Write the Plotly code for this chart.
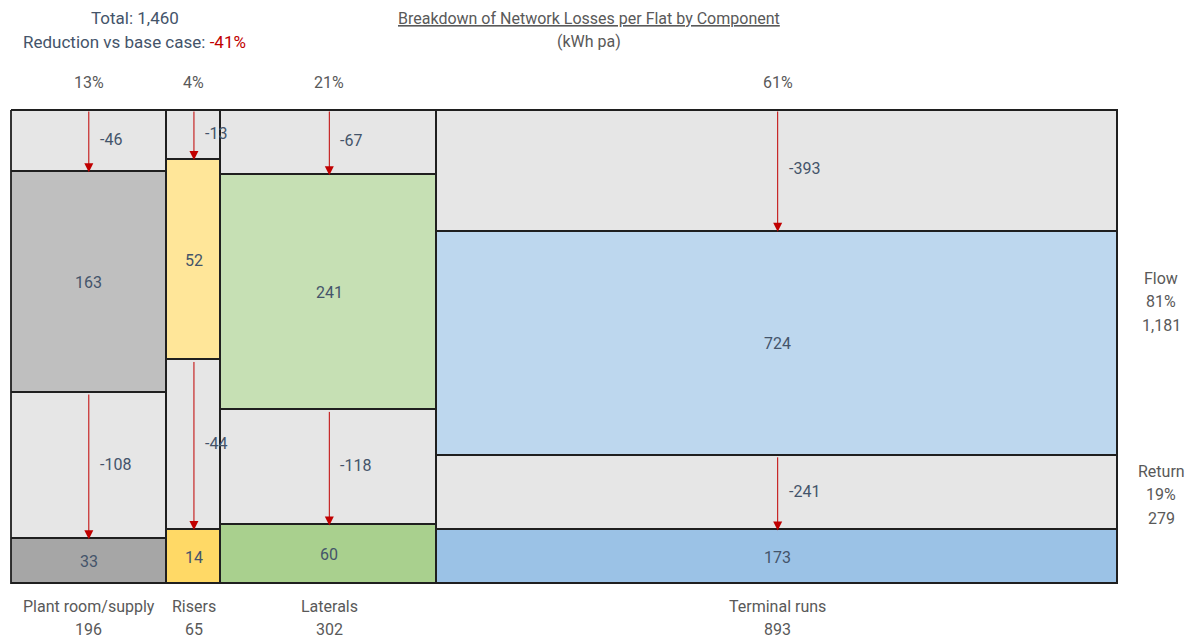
import plotly.graph_objects as go

categories = ["Plant room/supply", "Risers", "Laterals", "Terminal runs"]
flow_now = [163, 52, 241, 724]
flow_red = [46, 13, 67, 393]
ret_now = [33, 14, 60, 173]
ret_red = [108, 44, 118, 241]
cat_totals = ["196", "65", "302", "893"]
share_labels = ["13%", "4%", "21%", "61%"]
total_label = "1,460"
reduction_label = "-41%"
flow_summary = ["Flow", "81%", "1,181"]
return_summary = ["Return", "19%", "279"]

flow_colors = ["#BFBFBF", "#FFE699", "#C6E0B4", "#BDD7EE"]
ret_colors = ["#A6A6A6", "#FFD966", "#A9D08E", "#9BC2E6"]
red_color = "#E6E6E6"
num_col = "#44546A"
lab_col = "#595959"
edge_col = "#1F1F1F"
FONT = "Roboto"
LH = 23.5  # line height in px

base = [a + b + c + d for a, b, c, d in zip(flow_now, flow_red, ret_now, ret_red)]
total_base = sum(base)
lefts = []
acc = 0
for b in base:
    lefts.append(acc)
    acc += b
centers = [l + b / 2 for l, b in zip(lefts, base)]

def frac(vals):
    return [v / b for v, b in zip(vals, base)]

fig = go.Figure()
line = dict(color=edge_col, width=1.8)
for vals, cols in [(ret_now, ret_colors), (ret_red, [red_color] * 4),
                   (flow_now, flow_colors), (flow_red, [red_color] * 4)]:
    fig.add_trace(go.Bar(x=centers, y=frac(vals), width=base,
                         marker=dict(color=cols, line=line), cliponaxis=False,
                         hoverinfo="skip", showlegend=False))

ann = []

def lines(xref, x, yref, y, texts, yshift0, color, size=16, xshift=0):
    for k, t in enumerate(texts):
        ann.append(dict(xref=xref, yref=yref, x=x, y=y, text=t, showarrow=False,
                        xanchor="center", yanchor="middle", xshift=xshift,
                        yshift=yshift0 - k * LH, font=dict(color=color, size=size)))

for i in range(4):
    b = base[i]
    y1 = ret_now[i] / b
    y2 = y1 + ret_red[i] / b
    y3 = y2 + flow_now[i] / b
    y4 = 1.0
    ann.append(dict(x=centers[i], y=y1 / 2, text=str(ret_now[i]), showarrow=False,
                    font=dict(color=num_col, size=16)))
    ann.append(dict(x=centers[i], y=(y2 + y3) / 2, text=str(flow_now[i]), showarrow=False,
                    font=dict(color=num_col, size=16)))
    ann.append(dict(x=centers[i], y=(y1 + y2) / 2, text="-" + str(ret_red[i]), showarrow=False,
                    xanchor="left", xshift=9, yshift=2, font=dict(color=num_col, size=16)))
    ann.append(dict(x=centers[i], y=(y3 + y4) / 2, text="-" + str(flow_red[i]), showarrow=False,
                    xanchor="left", xshift=9, yshift=2, font=dict(color=num_col, size=16)))
    for top, tip in [(y4, y3), (y2, y1)]:
        ann.append(dict(x=centers[i], y=tip, ax=centers[i], ay=top, axref="x", ayref="y",
                        text="", showarrow=True, arrowhead=2, arrowsize=1.8, arrowwidth=1,
                        arrowcolor="#C00000", standoff=0, startstandoff=0))
    lines("x", centers[i], "y", 1, [share_labels[i]], 28, lab_col)
    lines("x", centers[i], "y", 0, [categories[i], cat_totals[i]], -22, lab_col)

# right summaries (plot area: x 11..1118, y 110..584)
lines("paper", 1, "paper", 0, flow_summary, 584 - 278, lab_col, xshift=43)
lines("paper", 1, "paper", 0, return_summary, 584 - 471, lab_col, xshift=43)
# title
lines("paper", 0.522, "paper", 0, ["<u>Breakdown of Network Losses per Flat by Component</u>", "(kWh pa)"],
      584 - 18, lab_col)
# totals
lines("paper", 0.112, "paper", 0,
      ["Total: " + total_label,
       "Reduction vs base case: <span style='color:#C00000'>" + reduction_label + "</span>"],
      584 - 18, num_col, size=17)

border = dict(color=edge_col, width=1.8)
shapes = [
    dict(type="line", xref="paper", yref="paper", x0=0, x1=1, y0=1, y1=1, line=border, layer="above"),
    dict(type="line", xref="paper", yref="paper", x0=0, x1=0, y0=0, y1=1, line=border, layer="above"),
]

fig.update_layout(
    width=1196, height=640,
    margin=dict(l=11, r=78, t=110, b=56),
    barmode="stack", bargap=0,
    plot_bgcolor="white", paper_bgcolor="white",
    font=dict(family=FONT, size=16, color=num_col),
    xaxis=dict(range=[0, total_base], showgrid=False, zeroline=False, showticklabels=False),
    yaxis=dict(range=[0, 1], showgrid=False, zeroline=False, showticklabels=False),
    annotations=ann,
    shapes=shapes,
)
fig.write_html("out.html")
